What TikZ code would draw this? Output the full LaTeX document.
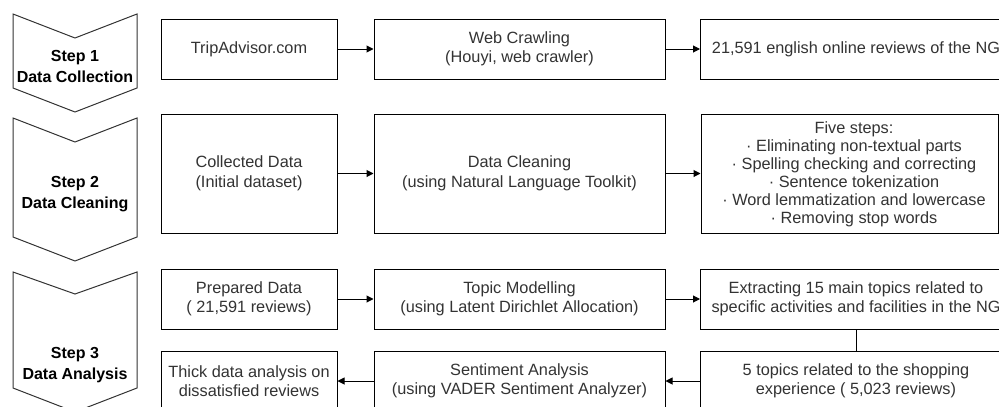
\documentclass[tikz,border=0pt]{standalone}
\usepackage{fontspec}
\setmainfont{Liberation Sans}
\usetikzlibrary{arrows.meta}
\begin{document}
\begin{tikzpicture}[x=1pt,y=-1pt,
  box/.style={draw=black, line width=1pt, fill=white, text=black!80,
    font=\fontsize{16.3}{19.5}\selectfont, align=center, inner sep=0pt,
    minimum height=60pt},
  colA/.style={minimum width=176pt},
  colB/.style={minimum width=291pt},
  colC/.style={minimum width=311pt},
  conn/.style={draw=black, line width=1pt, -{Triangle[length=7pt,width=7pt]}},
  plain/.style={draw=black, line width=1pt},
  chev/.style={draw=black!80, line width=1pt, fill=white},
  chevtext/.style={font=\bfseries\fontsize{16}{21}\selectfont, align=center, text=black, inner sep=0pt}]
\useasboundingbox (0,0) rectangle (999,407);
\clip (0,0) rectangle (999,407);

% step chevrons
\draw[chev] (13,14) -- (75,38) -- (137,14) -- (137,88) -- (75,112) -- (13,88) -- cycle;
\draw[chev] (13,118) -- (75,142) -- (137,118) -- (137,237) -- (75,261) -- (13,237) -- cycle;
\draw[chev] (13,272) -- (75,294) -- (137,272) -- (137,388) -- (75,412) -- (13,388) -- cycle;
\node[chevtext] (s1) at (75,66) {Step 1\\Data Collection};
\node[chevtext] (s2) at (75,194) {Step 2\\Data Cleaning};
\node[chevtext] (s3) at (75,365) {Step 3\\Data Analysis};

% row 1
\node[box,colA] (trip) at (249,49) {TripAdvisor.com};
\node[box,colB] (crawl) at (519.5,49) {Web Crawling\\(Houyi, web crawler)};
\node[box,colC] (reviews) at (856,49) {21,591 english online reviews of the NG};

% row 2
\node[box,colA,minimum height=119pt] (collected) at (249,173.5) {Collected Data\\(Initial dataset)};
\node[box,colB,minimum height=119pt] (cleaning) at (519.5,173.5) {Data Cleaning\\(using Natural Language Toolkit)};
\node[box,minimum width=297pt,minimum height=119pt] (five) at (849.5,173.5) {};
\node[font=\fontsize{16.3}{18}\selectfont, align=center, text=black!80, inner sep=0pt] (fivetext) at (854,174)
  {Five steps:\\· Eliminating non-textual parts\\· Spelling checking and correcting\\· Sentence tokenization\\· Word lemmatization and lowercase\\· Removing stop words};

% row 3
\node[box,colA] (prepared) at (249,299) {Prepared Data\\( 21,591 reviews)};
\node[box,colB] (topic) at (519.5,299) {Topic Modelling\\(using Latent Dirichlet Allocation)};
\node[box,colC] (extract) at (856,299) {Extracting 15 main topics related to\\specific activities and facilities in the NG};

% row 4
\node[box,colA] (thick) at (249,381) {Thick data analysis on\\dissatisfied reviews};
\node[box,colB] (senti) at (519.5,381) {Sentiment Analysis\\(using VADER Sentiment Analyzer)};
\node[box,colC] (shop) at (856,381) {5 topics related to the shopping\\experience ( 5,023 reviews)};

% connectors
\draw[conn] (trip) -- (crawl);
\draw[conn] (crawl) -- (reviews);
\draw[conn] (collected) -- (cleaning);
\draw[conn] (cleaning) -- (five);
\draw[conn] (prepared) -- (topic);
\draw[conn] (topic) -- (extract);
\draw[plain] (extract) -- (shop);
\draw[conn] (shop) -- (senti);
\draw[conn] (senti) -- (thick);
\end{tikzpicture}
\end{document}
